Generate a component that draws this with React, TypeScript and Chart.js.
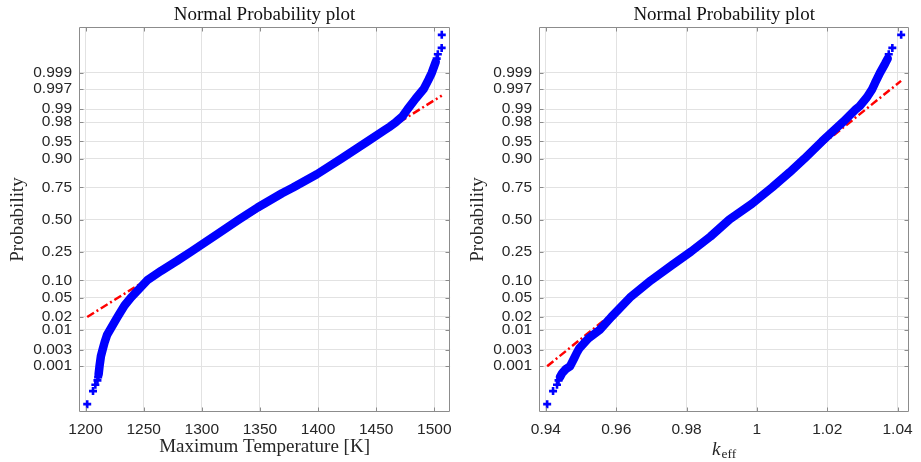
import React, { useEffect, useRef } from "react";
import { Chart, registerables } from "chart.js";

Chart.register(...registerables);

// ---------------- data ----------------
const sampleCount = 10000;

const probTicks = [0.001, 0.003, 0.01, 0.02, 0.05, 0.1, 0.25, 0.5, 0.75, 0.9, 0.95, 0.98, 0.99, 0.997, 0.999];
const probTickLabels = ["0.001", "0.003", "0.01", "0.02", "0.05", "0.10", "0.25", "0.50", "0.75", "0.90", "0.95", "0.98", "0.99", "0.997", "0.999"];

const tempTicks = [1200, 1250, 1300, 1350, 1400, 1450, 1500];
const tempTickLabels = ["1200", "1250", "1300", "1350", "1400", "1450", "1500"];

const keffTicks = [0.94, 0.96, 0.98, 1, 1.02, 1.04];
const keffTickLabels = ["0.94", "0.96", "0.98", "1", "1.02", "1.04"];

// Left panel: maximum temperature [K] (dense body of sorted samples)
const tempBandX = [1211.2, 1212.0, 1213.2, 1214.6, 1216.5, 1218.5, 1221.0, 1227.5, 1233.5, 1239.0, 1245.5, 1253.0, 1265.0, 1278.3, 1291.0, 1313.5, 1332.0, 1348.0, 1369.0, 1378.5, 1399.0, 1420.0, 1442.6, 1457.0, 1462.0, 1467.0, 1472.5, 1477.0, 1484.0, 1490.8, 1495.0, 1497.8, 1500.0, 1501.2];
const tempBandP = [0.00055, 0.001, 0.002, 0.003, 0.005, 0.0075, 0.01, 0.02, 0.035, 0.05, 0.07, 0.1, 0.14, 0.19, 0.25, 0.38, 0.5, 0.6, 0.71, 0.75, 0.83, 0.9, 0.95, 0.97, 0.975, 0.98, 0.985, 0.99, 0.9946, 0.997, 0.9984, 0.999, 0.9994, 0.99955];
// Left panel: individually visible extreme samples
const tempTailX = [1201.4, 1206.4, 1208.4, 1210.2, 1210.8, 1502.0, 1503.0, 1506.3, 1506.4];
const tempTailP = [0.00005, 0.00015, 0.00025, 0.00035, 0.00045, 0.99965, 0.99975, 0.99985, 0.99995];
// Left panel: normal reference line
const tempFitX = [1201.4, 1506.4];
const tempFitP = [0.02, 0.99547];

// Right panel: k_eff (dense body of sorted samples)
const keffBandX = [0.944, 0.9446, 0.9456, 0.9469, 0.948, 0.9488, 0.9495, 0.952, 0.9553, 0.9586, 0.9639, 0.9699, 0.976, 0.9813, 0.9868, 0.9922, 0.9986, 1.0043, 1.0093, 1.0135, 1.0185, 1.0219, 1.0245, 1.0282, 1.0292, 1.0313, 1.0328, 1.0336, 1.035, 1.0365, 1.0372];
const keffBandP = [0.00045, 0.0006, 0.0008, 0.001, 0.0017, 0.0025, 0.0033, 0.006, 0.01, 0.02, 0.05, 0.1, 0.17, 0.25, 0.36, 0.5, 0.63, 0.75, 0.84, 0.9, 0.95, 0.97, 0.98, 0.99, 0.9915, 0.995, 0.997, 0.998, 0.999, 0.9995, 0.99965];
// Right panel: individually visible extreme samples
const keffTailX = [0.94036, 0.94204, 0.94316, 0.9436, 1.0375, 1.03852, 1.04103];
const keffTailP = [0.00005, 0.00015, 0.00025, 0.00035, 0.99975, 0.99985, 0.99995];
// Right panel: normal reference line
const keffFitX = [0.94036, 1.041];
const keffFitP = [0.001, 0.99825];

// ---------------- helpers ----------------
const SERIF = '"Liberation Serif", "Times New Roman", serif';
const SANS = '"Liberation Sans", Arial, Helvetica, sans-serif';
const TEXT = "#262626";
const GRID = "#e2e2e2";
const FRAME = "#8c8c8c";

// inverse standard normal CDF (Acklam) – used as the probability-axis transform
function normInv(p: number): number {
  const a = [-3.969683028665376e1, 2.209460984245205e2, -2.759285104469687e2, 1.38357751867269e2, -3.066479806614716e1, 2.506628277459239];
  const b = [-5.447609879822406e1, 1.615858368580409e2, -1.556989798598866e2, 6.680131188771972e1, -1.328068155288572e1];
  const c = [-7.784894002430293e-3, -3.223964580411365e-1, -2.400758277161838, -2.549732539343734, 4.374664141464968, 2.938163982698783];
  const d = [7.784695709041462e-3, 3.224671290700398e-1, 2.445134137142996, 3.754408661907416];
  const pl = 0.02425;
  if (p < pl) {
    const q = Math.sqrt(-2 * Math.log(p));
    return (((((c[0] * q + c[1]) * q + c[2]) * q + c[3]) * q + c[4]) * q + c[5]) / ((((d[0] * q + d[1]) * q + d[2]) * q + d[3]) * q + 1);
  }
  if (p > 1 - pl) {
    const q = Math.sqrt(-2 * Math.log(1 - p));
    return -(((((c[0] * q + c[1]) * q + c[2]) * q + c[3]) * q + c[4]) * q + c[5]) / ((((d[0] * q + d[1]) * q + d[2]) * q + d[3]) * q + 1);
  }
  const q = p - 0.5;
  const r = q * q;
  return ((((((a[0] * r + a[1]) * r + a[2]) * r + a[3]) * r + a[4]) * r + a[5]) * q) / (((((b[0] * r + b[1]) * r + b[2]) * r + b[3]) * r + b[4]) * r + 1);
}

function toPoints(xs: number[], ps: number[]) {
  return xs.map((x, i) => ({ x, y: normInv(ps[i]) }));
}

const yLimit = -normInv(0.25 / sampleCount);

const framePlugin = {
  id: "frame",
  afterDraw(chart: any) {
    const { ctx, chartArea: a, scales } = chart;
    ctx.save();
    ctx.strokeStyle = FRAME;
    ctx.lineWidth = 1;
    const L = Math.round(a.left) + 0.5;
    const R = Math.round(a.right) - 0.5;
    const T = Math.round(a.top) + 0.5;
    const B = Math.round(a.bottom) - 0.5;
    ctx.beginPath();
    ctx.rect(L, T, R - L, B - T);
    const len = 4;
    for (const t of scales.x.ticks) {
      const px = Math.round(scales.x.getPixelForValue(t.value)) + 0.5;
      ctx.moveTo(px, B);
      ctx.lineTo(px, B - len);
      ctx.moveTo(px, T);
      ctx.lineTo(px, T + len);
    }
    for (const t of scales.y.ticks) {
      const py = Math.round(scales.y.getPixelForValue(t.value)) + 0.5;
      ctx.moveTo(L, py);
      ctx.lineTo(L + len, py);
      ctx.moveTo(R, py);
      ctx.lineTo(R - len, py);
    }
    ctx.stroke();
    ctx.restore();
  },
};

const keffTitlePlugin = {
  id: "keffTitle",
  afterDraw(chart: any) {
    const { ctx, chartArea: a, height } = chart;
    ctx.save();
    ctx.fillStyle = TEXT;
    ctx.textBaseline = "alphabetic";
    ctx.textAlign = "left";
    const mainFont = `italic 19px ${SERIF}`;
    const subFont = `13.5px ${SERIF}`;
    ctx.font = mainFont;
    const w1 = ctx.measureText("k").width;
    ctx.font = subFont;
    const w2 = ctx.measureText("eff").width;
    const x0 = (a.left + a.right) / 2 - (w1 + 1 + w2) / 2;
    ctx.font = mainFont;
    ctx.fillText("k", x0, height - 7.5);
    ctx.font = subFont;
    ctx.fillText("eff", x0 + w1 + 1, height - 4);
    ctx.restore();
  },
};

type PanelSpec = {
  bandX: number[];
  bandP: number[];
  tailX: number[];
  tailP: number[];
  fitX: number[];
  fitP: number[];
  xMin: number;
  xMax: number;
  xTicks: number[];
  xTickLabels: string[];
  xTitle: string | null;
  padRight: number;
};

function makeConfig(s: PanelSpec): any {
  return {
    type: "scatter",
    data: {
      datasets: [
        {
          data: toPoints(s.tailX, s.tailP),
          showLine: false,
          pointStyle: "cross",
          pointRadius: 4,
          pointBorderWidth: 2.6,
          borderColor: "#0000ff",
          backgroundColor: "#0000ff",
          order: 0,
        },
        {
          data: toPoints(s.bandX, s.bandP),
          showLine: true,
          pointRadius: 0,
          borderColor: "#0000ff",
          borderWidth: 8.5,
          borderCapStyle: "round",
          borderJoinStyle: "round",
          tension: 0,
          order: 1,
        },
        {
          data: toPoints(s.fitX, s.fitP),
          showLine: true,
          pointRadius: 0,
          borderColor: "#ff0000",
          borderWidth: 2.5,
          borderDash: [8, 3, 2, 3],
          tension: 0,
          order: 2,
        },
      ],
    },
    options: {
      animation: false,
      responsive: false,
      maintainAspectRatio: false,
      layout: { padding: { left: 0, right: s.padRight, top: 0, bottom: 0 } },
      plugins: {
        legend: { display: false },
        tooltip: { enabled: false },
        title: {
          display: true,
          text: "Normal Probability plot",
          fullSize: false,
          color: "#111",
          font: { family: SERIF, size: 19, weight: "normal" },
          padding: { top: 3.8, bottom: 0.4 },
        },
      },
      scales: {
        x: {
          type: "linear",
          min: s.xMin,
          max: s.xMax,
          afterFit(scale: any) {
            scale.height = 50;
          },
          afterBuildTicks(scale: any) {
            scale.ticks = s.xTicks.map((v) => ({ value: v }));
          },
          ticks: {
            autoSkip: false,
            maxRotation: 0,
            padding: 8,
            color: TEXT,
            font: { family: SANS, size: 15.5 },
            callback: (_v: any, i: number) => s.xTickLabels[i],
          },
          grid: { color: GRID, drawTicks: false },
          border: { display: false },
          title: {
            display: !!s.xTitle,
            text: s.xTitle || "",
            color: TEXT,
            font: { family: SERIF, size: 19 },
            padding: { top: 0, bottom: 3.4 },
          },
        },
        y: {
          type: "linear",
          min: -yLimit,
          max: yLimit,
          afterFit(scale: any) {
            scale.width = 79;
          },
          afterBuildTicks(scale: any) {
            scale.ticks = probTicks.map((p) => ({ value: normInv(p) }));
          },
          ticks: {
            autoSkip: false,
            padding: 7,
            color: TEXT,
            font: { family: SANS, size: 15.5 },
            callback: (_v: any, i: number) => probTickLabels[i],
          },
          grid: { color: GRID, drawTicks: false },
          border: { display: false },
          title: {
            display: true,
            text: "Probability",
            color: TEXT,
            font: { family: SERIF, size: 19 },
            padding: { top: 7, bottom: 0 },
          },
        },
      },
    },
    plugins: s.xTitle ? [framePlugin] : [framePlugin, keffTitlePlugin],
  };
}

function Panel({ left, width, spec }: { left: number; width: number; spec: PanelSpec }) {
  const ref = useRef<HTMLCanvasElement | null>(null);
  useEffect(() => {
    if (!ref.current) return;
    const chart = new Chart(ref.current, makeConfig(spec));
    return () => chart.destroy();
  }, []);
  return (
    <canvas
      ref={ref}
      width={width}
      height={462}
      style={{ position: "absolute", left, top: 0, width, height: 462, display: "block" }}
    />
  );
}

const leftSpec: PanelSpec = {
  bandX: tempBandX,
  bandP: tempBandP,
  tailX: tempTailX,
  tailP: tempTailP,
  fitX: tempFitX,
  fitP: tempFitP,
  xMin: 1194.34,
  xMax: 1513.6,
  xTicks: tempTicks,
  xTickLabels: tempTickLabels,
  xTitle: "Maximum Temperature [K]",
  padRight: 3,
};

const rightSpec: PanelSpec = {
  bandX: keffBandX,
  bandP: keffBandP,
  tailX: keffTailX,
  tailP: keffTailP,
  fitX: keffFitX,
  fitP: keffFitP,
  xMin: 0.93804,
  xMax: 1.04334,
  xTicks: keffTicks,
  xTickLabels: keffTickLabels,
  xTitle: null,
  padRight: 5,
};

export default function App() {
  return (
    <div style={{ position: "absolute", left: 0, top: 0, width: 921, height: 462, background: "#fff", overflow: "hidden" }}>
      <Panel left={0} width={460} spec={leftSpec} />
      <Panel left={460} width={461} spec={rightSpec} />
    </div>
  );
}
